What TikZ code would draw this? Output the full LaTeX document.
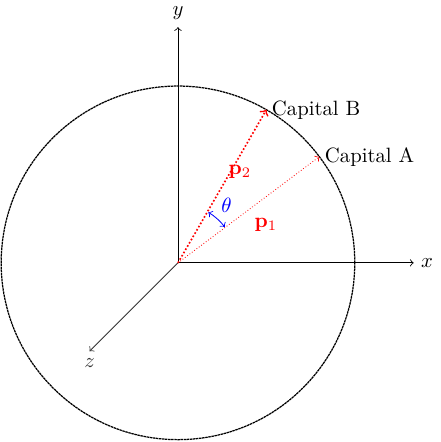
\documentclass[tikz,border=0pt]{standalone}
\usepackage{amsmath}
\usepackage{amssymb}
\usepackage{tikz}
\usepackage{xcolor}

\begin{document}
\begin{tikzpicture}
\useasboundingbox (-3.02,-3.04) rectangle (4.46,4.46);
\tikzset{axis/.style={->},
  vec/.style={->,red}}

% sphere
\coordinate (O) at (0,0);
\draw[dash pattern=on 1.2pt off 0.3pt,semithick] (O) circle (3);

% axes
\draw[axis] (O) -- (4,0) node[right] (xl) {$x$};
\draw[axis] (O) -- (0,4) node[above] (yl) {$y$};
\draw[axis,black!80] (O) -- (-1.5,-1.5) node[below] (zl) {$z$};

% capitals
\coordinate (A) at (36.9:3);
\coordinate (B) at (60:3);
\node[right,inner sep=2.5pt] (capA) at (A) {Capital A};
\node[right,inner sep=2.5pt] (capB) at (B) {Capital B};

\draw[vec,densely dotted] (O) -- (A);
\draw[vec,densely dotted,thick] (O) -- (B);
\node[red] (p1) at (1.49,0.64) {$\mathbf{p}_1$};
\node[red] (p2) at (1.05,1.54) {$\mathbf{p}_2$};

% angle
\draw[blue,<->] (37.5:1) arc (37.5:59:1);
\node[blue] (th) at (50:1.28) {$\theta$};
\end{tikzpicture}
\end{document}
